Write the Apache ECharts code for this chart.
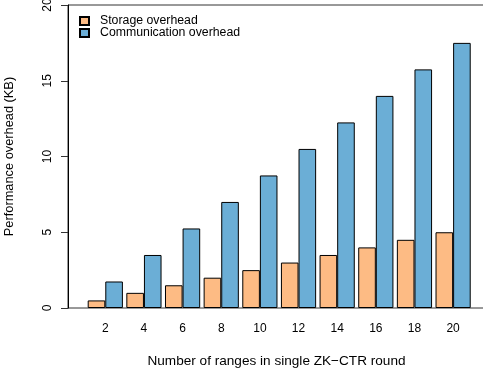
<!DOCTYPE html>
<html><head><meta charset="utf-8">
<script src="https://cdn.jsdelivr.net/npm/echarts@6/dist/echarts.min.js"></script>
<style>html,body{margin:0;padding:0;background:#fff}#c{width:483px;height:375px}</style>
</head><body><div id="c"></div>
<script>
const categories = [2, 4, 6, 8, 10, 12, 14, 16, 18, 20];
const storageOverhead = [0.5, 1, 1.5, 2, 2.5, 3, 3.5, 4, 4.5, 5];
const communicationOverhead = [1.75, 3.5, 5.25, 7, 8.75, 10.5, 12.25, 14, 15.75, 17.5];
const yTicks = [0, 5, 10, 15, 20];

const font = 'Liberation Sans, Arial, Helvetica, sans-serif';
const chart = echarts.init(document.getElementById('c'), null, {renderer: 'canvas'});
chart.setOption({
  animation: false,
  textStyle: {fontFamily: font},
  grid: {left: 68, right: -2, top: 5, bottom: 67, show: true, borderColor: '#333', borderWidth: 1,
         containLabel: false, outerBoundsMode: 'none'},
  legend: {
    left: 74, top: 10, orient: 'vertical', itemGap: 0,
    itemWidth: 9, itemHeight: 8, icon: 'rect',
    textStyle: {fontFamily: font, fontSize: 12.3, color: '#000', padding: [0, 0, 0, 6]},
    data: ['Storage overhead', 'Communication overhead']
  },
  xAxis: {
    type: 'value', min: 0.07, max: 21.65,
    name: 'Number of ranges in single ZK\u2212CTR round', nameLocation: 'middle', nameGap: 46,
    nameTextStyle: {fontFamily: font, fontSize: 13.6, color: '#000'},
    axisLine: {show: false}, axisTick: {show: false}, splitLine: {show: false},
    axisLabel: {customValues: categories, margin: 15, fontFamily: font, fontSize: 12, color: '#000'}
  },
  yAxis: {
    type: 'value', min: 0, max: 20, interval: 5,
    name: 'Performance overhead (KB)', nameLocation: 'middle', nameGap: 52, nameRotate: 90,
    nameTextStyle: {fontFamily: font, fontSize: 12.8, color: '#000'},
    axisLine: {show: true, lineStyle: {color: '#000'}},
    axisTick: {show: true, length: 7, lineStyle: {color: '#333'}},
    splitLine: {show: false},
    axisLabel: {rotate: 90, margin: 14, fontFamily: font, fontSize: 12, color: '#000',
      customValues: yTicks}
  },
  series: [
    {name: 'Storage overhead', type: 'bar', barWidth: 17.6, barGap: '0%',
     itemStyle: {color: '#FDBB84', borderColor: '#000', borderWidth: 1},
     data: categories.map((c, i) => [c, storageOverhead[i]])},
    {name: 'Communication overhead', type: 'bar', barWidth: 17.6, barGap: '0%',
     itemStyle: {color: '#6BAED6', borderColor: '#000', borderWidth: 1},
     data: categories.map((c, i) => [c, communicationOverhead[i]])}
  ]
});
</script></body></html>
